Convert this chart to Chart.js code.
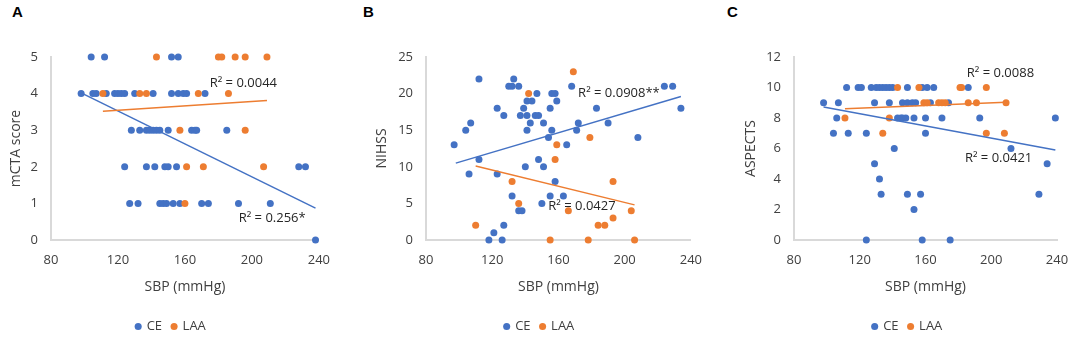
<!DOCTYPE html>
<html>
<head>
<meta charset="utf-8">
<script src="https://cdn.jsdelivr.net/npm/chart.js@4.4.0/dist/chart.umd.min.js"></script>
<style>
  html, body { margin: 0; padding: 0; background: #fff; width: 1084px; height: 341px; overflow: hidden; }
  canvas { position: absolute; top: 0; }
  .tag { position: absolute; top: 3px; font: bold 15px "Liberation Sans", Arial, sans-serif; color: #000; }
</style>
</head>
<body>
<div class="tag" style="left:12px">A</div>
<div class="tag" style="left:363px">B</div>
<div class="tag" style="left:727px">C</div>
<canvas id="chartA" style="left:0px" width="342" height="341"></canvas>
<canvas id="chartB" style="left:365px" width="349" height="341"></canvas>
<canvas id="chartC" style="left:733px" width="349" height="341"></canvas>
<script>
// x axis (SBP) ticks, shared by all three panels
const sbpTicks = [80, 120, 160, 200, 240];

// Panel A: mCTA score
const aCeSbp = [104, 112, 152, 156,
  98, 105, 107, 113, 118, 120, 122, 124, 130, 141, 152, 156, 159, 161, 172,
  128, 133, 137, 139, 141, 143, 145, 150, 164, 166, 167, 185,
  124, 137, 142, 148, 150, 155, 228, 232,
  127, 132, 145, 147, 149, 153, 157, 170, 174, 192, 211,
  238];
const aCeScore = [5, 5, 5, 5,
  4, 4, 4, 4, 4, 4, 4, 4, 4, 4, 4, 4, 4, 4, 4,
  3, 3, 3, 3, 3, 3, 3, 3, 3, 3, 3, 3,
  2, 2, 2, 2, 2, 2, 2, 2,
  1, 1, 1, 1, 1, 1, 1, 1, 1, 1, 1,
  0];
const aLaaSbp = [143, 180, 182, 190, 196, 209, 111, 133, 137, 168, 186, 157, 196, 161, 171, 207, 160];
const aLaaScore = [5, 5, 5, 5, 5, 5, 4, 4, 4, 4, 4, 3, 3, 2, 2, 2, 1];
const aCeTrendSbp = [98, 238];
const aCeTrendScore = [4.02, 0.87];
const aLaaTrendSbp = [111, 209];
const aLaaTrendScore = [3.52, 3.81];

// Panel B: NIHSS
const bCeSbp = [112, 133, 130, 132, 136, 168, 224, 229, 147, 156, 158, 141, 144, 159,
  123, 139, 155, 183, 234, 127, 137, 141, 146, 148, 107, 143, 151, 172, 190,
  104, 141, 156, 171, 154, 208, 97, 165, 112, 148, 140, 151, 106, 123, 158,
  132, 155, 163, 150, 136, 138, 127, 121, 118, 126];
const bCeNihss = [22, 22, 21, 21, 21, 21, 21, 21, 20, 20, 20, 19, 19, 19,
  18, 18, 18, 18, 18, 17, 17, 17, 17, 17, 16, 16, 16, 16, 16,
  15, 15, 15, 15, 14, 14, 13, 13, 11, 11, 10, 10, 9, 9, 8,
  6, 6, 6, 5, 4, 4, 2, 1, 0, 0];
const bLaaSbp = [169, 142, 179, 159, 158, 132, 193, 136, 166, 204, 193, 110, 184, 188, 155, 178, 206];
const bLaaNihss = [23, 20, 14, 13, 11, 8, 8, 5, 4, 4, 3, 2, 2, 2, 0, 0, 0];
const bCeTrendSbp = [98, 234];
const bCeTrendNihss = [10.5, 19.6];
const bLaaTrendSbp = [110, 206];
const bLaaTrendNihss = [10.1, 4.8];

// Panel C: ASPECTS
const cCeSbp = [112, 119, 121, 127, 130, 132, 134, 136, 138, 140, 149, 158, 161, 165, 186,
  98, 107, 129, 138, 146, 149, 152, 154, 163, 174,
  106, 143, 145, 146, 148, 153, 160, 170, 193, 239,
  104, 113, 124, 160, 141, 212, 129, 234, 132, 133, 149, 157, 229, 153, 124, 158, 175];
const cCeAspects = [10, 10, 10, 10, 10, 10, 10, 10, 10, 10, 10, 10, 10, 10, 10,
  9, 9, 9, 9, 9, 9, 9, 9, 9, 9,
  8, 8, 8, 8, 8, 8, 8, 8, 8, 8,
  7, 7, 7, 7, 6, 6, 5, 5, 4, 3, 3, 3, 3, 2, 0, 0, 0];
const cLaaSbp = [143, 156, 181, 182, 197, 159, 161, 168, 170, 172, 186, 191, 209, 111, 138, 134, 197, 208];
const cLaaAspects = [10, 10, 10, 10, 10, 9, 9, 9, 9, 9, 9, 9, 9, 8, 8, 7, 7, 7];
const cCeTrendSbp = [98, 239];
const cCeTrendAspects = [8.72, 5.9];
const cLaaTrendSbp = [111, 209];
const cLaaTrendAspects = [8.6, 9.03];

const BLUE = '#4472C4';
const ORANGE = '#ED7D31';
const TEXT = '#404040';

Chart.defaults.font.family = "'Open Sans', sans-serif";
Chart.defaults.color = TEXT;

function toPoints(xs, ys) {
  return xs.map((x, i) => ({ x: x, y: ys[i] }));
}

// writes the R² notes next to the trend lines, anchored in data units
const r2Labels = {
  id: 'r2Labels',
  afterDatasetsDraw(chart, args, opts) {
    const { ctx, scales: { x, y } } = chart;
    ctx.save();
    ctx.font = "13px 'Open Sans', sans-serif";
    ctx.fillStyle = '#262626';
    ctx.textBaseline = 'middle';
    (opts.items || []).forEach(it => {
      ctx.fillText(it.text, x.getPixelForValue(it.x), y.getPixelForValue(it.y));
    });
    ctx.restore();
  }
};

function makePanel(id, p) {
  const ctx = document.getElementById(id).getContext('2d');
  return new Chart(ctx, {
    type: 'scatter',
    data: {
      datasets: [
        { label: 'CE', data: toPoints(p.ceX, p.ceY), backgroundColor: BLUE, borderColor: BLUE,
          borderWidth: 0, pointRadius: 3.5, order: 3, clip: false },
        { label: 'LAA', data: toPoints(p.laaX, p.laaY), backgroundColor: ORANGE, borderColor: ORANGE,
          borderWidth: 0, pointRadius: 3.5, order: 2, clip: false },
        { label: 'CE trend', data: toPoints(p.ceTrendX, p.ceTrendY), showLine: true, pointRadius: 0,
          borderColor: BLUE, borderWidth: 1.5, order: 1, clip: false },
        { label: 'LAA trend', data: toPoints(p.laaTrendX, p.laaTrendY), showLine: true, pointRadius: 0,
          borderColor: ORANGE, borderWidth: 1.5, order: 0, clip: false }
      ]
    },
    options: {
      responsive: false,
      animation: false,
      events: [],
      layout: { padding: { top: 57, bottom: -2, left: 0, right: 0 } },
      scales: {
        x: {
          type: 'linear', position: 'bottom',
          min: sbpTicks[0], max: sbpTicks[sbpTicks.length - 1],
          afterBuildTicks: s => { s.ticks = sbpTicks.map(v => ({ value: v })); },
          ticks: { padding: 12, color: TEXT, font: { size: 13 } },
          grid: { display: false, drawTicks: false },
          border: { color: '#d9d9d9', width: 2 },
          title: { display: true, text: 'SBP (mmHg)', color: TEXT, font: { size: 14 }, padding: { top: 0, bottom: 15 } },
          afterFit: s => { s.height = 70; }
        },
        y: {
          type: 'linear', position: 'left',
          min: p.yTicks[0], max: p.yTicks[p.yTicks.length - 1],
          afterBuildTicks: s => { s.ticks = p.yTicks.map(v => ({ value: v })); },
          ticks: { padding: 13, color: TEXT, font: { size: 13 } },
          grid: { display: false, drawTicks: false },
          border: { color: '#d9d9d9', width: 2 },
          title: { display: true, text: p.yTitle, color: TEXT, font: { size: 14 }, padding: { top: p.titlePad, bottom: 0 } },
          afterFit: s => { s.width = p.leftW; }
        },
        yRight: {
          type: 'linear', position: 'right', axis: 'y',
          grid: { display: false, drawTicks: false },
          border: { display: false },
          ticks: { display: false },
          afterFit: s => { s.width = p.rightW; }
        }
      },
      plugins: {
        tooltip: { enabled: false },
        legend: {
          position: 'bottom',
          labels: {
            usePointStyle: true, pointStyle: 'circle', boxWidth: 4, boxHeight: 5, padding: 10,
            color: TEXT, font: { size: 13 },
            filter: item => item.datasetIndex < 2,
            sort: (a, b) => a.datasetIndex - b.datasetIndex
          }
        },
        r2Labels: { items: p.notes }
      }
    },
    plugins: [r2Labels]
  });
}

makePanel('chartA', {
  ceX: aCeSbp, ceY: aCeScore, laaX: aLaaSbp, laaY: aLaaScore,
  ceTrendX: aCeTrendSbp, ceTrendY: aCeTrendScore, laaTrendX: aLaaTrendSbp, laaTrendY: aLaaTrendScore,
  yTicks: [0, 1, 2, 3, 4, 5], yTitle: 'mCTA score', titlePad: 8, leftW: 51, rightW: 20,
  notes: [{ text: 'R² = 0.0044', x: 174.8, y: 4.28 }, { text: 'R² = 0.256*', x: 192.1, y: 0.6 }]
});

makePanel('chartB', {
  ceX: bCeSbp, ceY: bCeNihss, laaX: bLaaSbp, laaY: bLaaNihss,
  ceTrendX: bCeTrendSbp, ceTrendY: bCeTrendNihss, laaTrendX: bLaaTrendSbp, laaTrendY: bLaaTrendNihss,
  yTicks: [0, 5, 10, 15, 20, 25], yTitle: 'NIHSS', titlePad: 9, leftW: 61, rightW: 18,
  notes: [{ text: 'R² = 0.0908**', x: 171.9, y: 20.05 }, { text: 'R² = 0.0427', x: 153.9, y: 4.54 }]
});

makePanel('chartC', {
  ceX: cCeSbp, ceY: cCeAspects, laaX: cLaaSbp, laaY: cLaaAspects,
  ceTrendX: cCeTrendSbp, ceTrendY: cCeTrendAspects, laaTrendX: cLaaTrendSbp, laaTrendY: cLaaTrendAspects,
  yTicks: [0, 2, 4, 6, 8, 10, 12], yTitle: 'ASPECTS', titlePad: 10, leftW: 61, rightW: 25,
  notes: [{ text: 'R² = 0.0088', x: 185.1, y: 10.91 }, { text: 'R² = 0.0421', x: 184.0, y: 5.35 }]
});
</script>
</body>
</html>
